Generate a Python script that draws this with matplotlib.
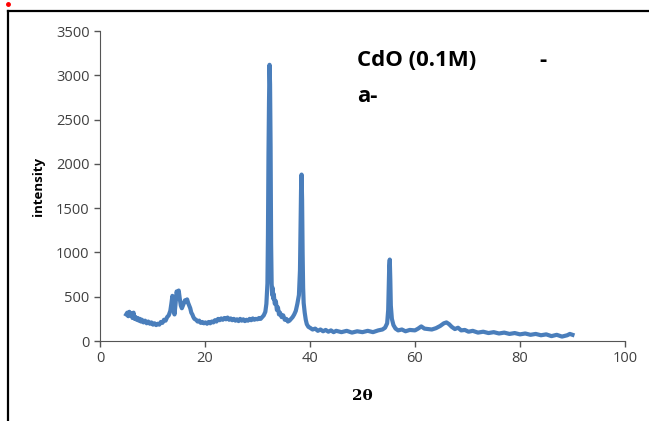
import matplotlib.pyplot as plt
from matplotlib.lines import Line2D

### Data ---------------------------------------------------------------------------------------------------------------

twoTheta = [5.0, 5.2, 5.4, 5.6, 5.8, 6.0, 6.2, 6.4, 6.6, 6.8, 7.0, 7.2, 7.4, 7.6, 7.8, 8.0, 8.3, 8.6, 8.9, 9.2,
            9.5, 9.8, 10.1, 10.4, 10.7, 11.0, 11.3, 11.6, 11.9, 12.2, 12.5, 12.8, 13.1, 13.4, 13.6, 13.8, 14.0,
            14.2, 14.4, 14.6, 14.8, 15.0, 15.2, 15.4, 15.6, 15.8, 16.0, 16.2, 16.4, 16.6, 16.8, 17.0, 17.2, 17.4,
            17.6, 17.8, 18.0, 18.3, 18.6, 18.9, 19.2, 19.5, 19.8, 20.1, 20.4, 20.7, 21.0, 21.3, 21.6, 21.9, 22.2,
            22.5, 22.8, 23.1, 23.4, 23.7, 24.0, 24.3, 24.6, 24.9, 25.2, 25.5, 25.8, 26.1, 26.4, 26.7, 27.0, 27.3,
            27.6, 27.9, 28.2, 28.5, 28.8, 29.1, 29.4, 29.7, 30.0, 30.3, 30.6, 30.9, 31.2, 31.5, 31.7, 31.9, 32.0,
            32.1, 32.2, 32.3, 32.4, 32.5, 32.6, 32.7, 32.8, 32.9, 33.0, 33.1, 33.3, 33.5, 33.7, 33.9, 34.1, 34.3,
            34.6, 34.9, 35.2, 35.5, 35.8, 36.1, 36.4, 36.7, 37.0, 37.3, 37.6, 37.9, 38.1, 38.2, 38.3, 38.4, 38.5,
            38.6, 38.7, 38.8, 39.0, 39.2, 39.4, 39.7, 40.0, 40.5, 41.0, 41.5, 42.0, 42.5, 43.0, 43.5, 44.0, 44.5,
            45.0, 46.0, 47.0, 48.0, 49.0, 50.0, 51.0, 52.0, 53.0, 53.8, 54.3, 54.7, 54.9, 55.0, 55.1, 55.2, 55.3,
            55.4, 55.6, 55.9, 56.3, 56.8, 57.5, 58.2, 59.0, 60.0, 60.6, 61.2, 61.8, 62.5, 63.2, 64.0, 64.8, 65.5,
            66.0, 66.5, 67.0, 67.6, 68.2, 68.8, 69.5, 70.2, 71.0, 72.0, 73.0, 74.0, 75.0, 76.0, 77.0, 78.0, 79.0,
            80.0, 81.0, 82.0, 83.0, 84.0, 85.0, 86.0, 87.0, 88.0, 89.0, 89.5, 90.0]

intensity = [300, 320, 280, 330, 290, 310, 260, 320, 250, 270, 240, 260, 230, 250, 220, 240, 210, 230, 200, 220,
             195, 210, 185, 200, 180, 195, 185, 215, 205, 240, 230, 270, 290, 340, 420, 510, 380,
             300, 420, 560, 530, 570, 480, 400, 370, 400, 430, 460, 440, 470, 430, 400, 370, 320,
             300, 270, 250, 240, 220, 230, 205, 215, 200, 210, 195, 215, 200, 220, 210, 235, 220,
             250, 235, 255, 240, 260, 245, 265, 240, 255, 235, 250, 230, 245, 225, 250, 230, 245,
             225, 240, 230, 250, 235, 255, 240, 250, 245, 260, 250, 270, 290, 330, 420, 650, 1200,
             2100, 2700, 3120, 2900, 2200, 1100, 650, 520, 600, 480, 530, 420, 450, 350, 380, 300, 320,
             270, 290, 240, 250, 220, 230, 250, 270, 300, 340, 420, 520, 800, 1300, 1700, 1880, 1600,
             1000, 600, 430, 320, 240, 190, 160, 150, 130, 140, 115, 130, 110, 125, 105, 120, 100,
             115, 100, 115, 95, 110, 100, 115, 100, 120, 130, 150, 200, 350, 600, 850, 920, 700,
             400, 250, 180, 140, 120, 130, 110, 125, 120, 140, 165, 140, 135, 130, 145, 170, 200,
             210, 190, 160, 135, 150, 120, 125, 105, 115, 95, 105, 90, 100, 85, 95, 80, 90,
             75, 85, 70, 80, 65, 75, 55, 70, 50, 65, 80, 70]

xTicks = [0, 20, 40, 60, 80, 100]
yTicks = [0, 500, 1000, 1500, 2000, 2500, 3000, 3500]

### Plot ---------------------------------------------------------------------------------------------------------------

fig = plt.figure(figsize=(6.49, 4.21), dpi=100)
ax = fig.add_axes([0.154, 0.19, 0.809, 0.736])

ax.plot(twoTheta, intensity, color='#4a7ebb', linewidth=3.0, solid_joinstyle='round')

ax.set_xlim(0, 100)
ax.set_ylim(0, 3500)
ax.set_xticks(xTicks)
ax.set_yticks(yTicks)
ax.tick_params(axis='both', direction='out', length=4, width=1, color='#555555',
               labelsize=10.5, labelcolor='#404040')
for lbl in ax.get_xticklabels() + ax.get_yticklabels():
    lbl.set_family('Open Sans')

ax.spines['top'].set_visible(False)
ax.spines['right'].set_visible(False)
ax.spines['left'].set_color('#555555')
ax.spines['bottom'].set_color('#555555')

ax.set_xlabel('2θ', fontsize=11, fontweight='bold', family='DejaVu Serif', labelpad=16)
ax.set_ylabel('intensity', fontsize=9.5, fontweight='bold', family='Open Sans', labelpad=8)

fig.text(357 / 649, 1 - 60 / 421, 'CdO (0.1M)', fontsize=16, fontweight='bold', family='Open Sans',
         va='center', ha='left')
fig.text(539 / 649, 1 - 60 / 421, '-', fontsize=16, fontweight='bold', family='Open Sans',
         va='center', ha='left')
fig.text(357 / 649, 1 - 96 / 421, 'a-', fontsize=16, fontweight='bold', family='Open Sans',
         va='center', ha='left')

# outer frame lines and the little red mark
fig.add_artist(Line2D([8 / 649, 1.0], [1 - 11 / 421, 1 - 11 / 421], color='black', linewidth=1.6,
                      transform=fig.transFigure))
fig.add_artist(Line2D([8 / 649, 8 / 649], [0.0, 1 - 11 / 421], color='black', linewidth=1.6,
                      transform=fig.transFigure))
fig.add_artist(Line2D([8 / 649], [1 - 4 / 421], marker='o', markersize=2.5, color='red', linewidth=0,
                      transform=fig.transFigure))

fig.savefig('out.png', dpi=100)
